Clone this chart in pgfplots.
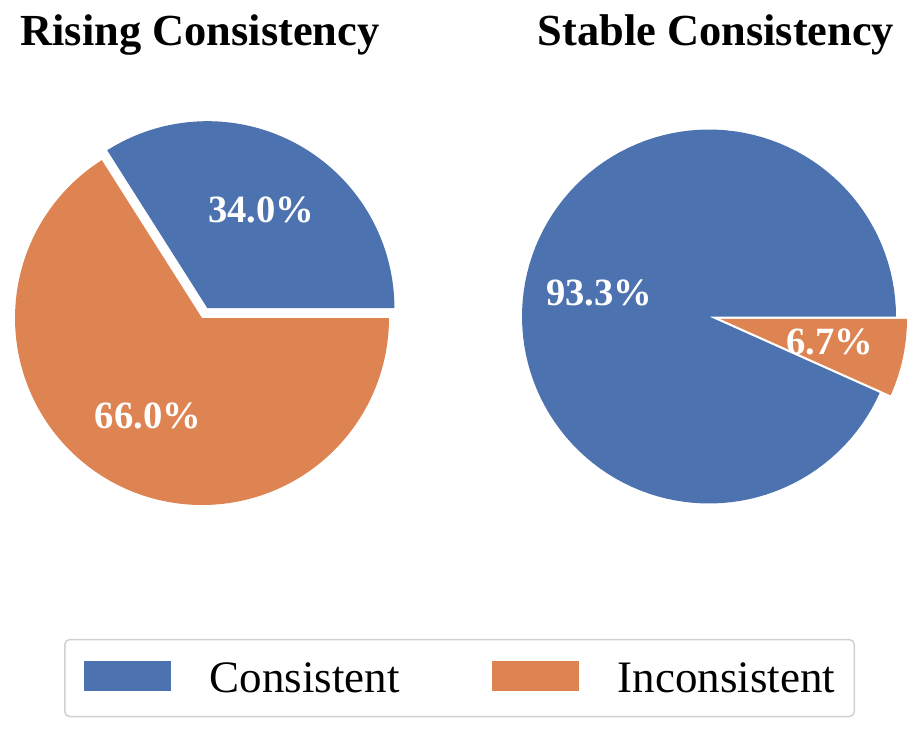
\documentclass[border=0pt]{standalone}
\usepackage{pgfplots}
\pgfplotsset{compat=1.18}
\usepackage{fontspec}
\setmainfont{Liberation Serif}

\definecolor{cblue}{HTML}{4C72B0}
\definecolor{corange}{HTML}{DD8452}

% shares in percent
\def\riseCons{34.0}
\def\riseIncons{66.0}
\def\stabCons{93.3}
\def\stabIncons{6.7}
% offset of a pulled-out slice and radius of the percentage labels
\def\explode{0.06}
\def\pctd{0.6}

% Rising: consistent slice pulled out
\pgfmathsetmacro{\rEnd}{3.6*\riseCons}
\pgfmathsetmacro{\rMidA}{\rEnd/2}
\pgfmathsetmacro{\rMidB}{(\rEnd+360)/2}
\pgfmathsetmacro{\rDx}{\explode*cos(\rMidA)}
\pgfmathsetmacro{\rDy}{\explode*sin(\rMidA)}
\pgfmathsetmacro{\rLAx}{\rDx+\pctd*cos(\rMidA)}
\pgfmathsetmacro{\rLAy}{\rDy+\pctd*sin(\rMidA)}
\pgfmathsetmacro{\rLBx}{\pctd*cos(\rMidB)}
\pgfmathsetmacro{\rLBy}{\pctd*sin(\rMidB)}
% Stable: inconsistent slice pulled out
\pgfmathsetmacro{\sEnd}{3.6*\stabCons}
\pgfmathsetmacro{\sMidA}{\sEnd/2}
\pgfmathsetmacro{\sMidB}{(\sEnd+360)/2}
\pgfmathsetmacro{\sDx}{\explode*cos(\sMidB)}
\pgfmathsetmacro{\sDy}{\explode*sin(\sMidB)}
\pgfmathsetmacro{\sLAx}{\pctd*cos(\sMidA)}
\pgfmathsetmacro{\sLAy}{\pctd*sin(\sMidA)}
\pgfmathsetmacro{\sLBx}{\sDx+\pctd*cos(\sMidB)}
\pgfmathsetmacro{\sLBy}{\sDy+\pctd*sin(\sMidB)}

\newcommand{\titlefont}{\fontsize{22.2}{26}\selectfont\bfseries}
\newcommand{\pctfont}{\fontsize{19.3}{22}\selectfont\bfseries}
\newcommand{\legfont}{\fontsize{22.5}{26}\selectfont}
\newcommand{\pct}[1]{\pgfmathprintnumber[fixed,fixed zerofill,precision=1,assume math mode=true]{#1}\%}

\tikzset{lbl/.style={font=\pctfont, text=white, anchor=center, inner sep=0pt}}
\pgfplotsset{
  pie/.style={
    hide axis, scale only axis, width=187pt, height=187pt,
    xmin=-1, xmax=1, ymin=-1, ymax=1, clip=false,
    title style={font=\titlefont, at={(0.5,1)}, anchor=base},
  },
  slice/.style={draw=none, samples=120},
}

\begin{document}
\begin{tikzpicture}
\begin{axis}[pie, at={(7.5pt,-252.5pt)}, anchor=south west,
  title={Rising Consistency}, title style={yshift=37pt, xshift=-1pt},
  legend columns=2,
  legend style={at={(1.1885,-0.4626)}, anchor=center,
    draw=black!18, line width=0.75pt, rounded corners=2.5pt,
    inner xsep=9.5pt, inner ysep=10.5pt, font=\legfont,
    nodes={inner sep=0pt, anchor=base west},
    column sep=19.5pt,
    /tikz/every even column/.append style={column sep=46pt}},
  legend image code/.code={\fill[#1, sharp corners] (0pt,1pt) rectangle (43.5pt,16pt);},
]
\addplot[slice, fill=cblue, domain=0:\rEnd]
  ({\rDx+cos(x)}, {\rDy+sin(x)}) -- (axis cs:\rDx,\rDy) -- cycle;
\addlegendentry{Consistent}
\addplot[slice, fill=corange, domain=\rEnd:360]
  ({cos(x)}, {sin(x)}) -- (axis cs:0,0) -- cycle;
\addlegendentry{Inconsistent}
\node[lbl] at (axis cs:\rLAx,\rLAy) {\pct{\riseCons}};
\node[lbl] at (axis cs:\rLBx,\rLBy) {\pct{\riseIncons}};
\end{axis}

\begin{axis}[pie, at={(261pt,-251.75pt)}, anchor=south west,
  title={Stable Consistency}, title style={yshift=36.25pt, xshift=3.5pt}]
\addplot[slice, fill=cblue, domain=0:\sEnd]
  ({cos(x)}, {sin(x)}) -- (axis cs:0,0) -- cycle;
\addplot[slice, fill=corange, domain=\sEnd:360]
  ({\sDx+cos(x)}, {\sDy+sin(x)}) -- (axis cs:\sDx,\sDy) -- cycle;
\node[lbl] at (axis cs:\sLAx,\sLAy) {\pct{\stabCons}};
\node[lbl] at (axis cs:\sLBx,\sLBy) {\pct{\stabIncons}};
\end{axis}

\pgfresetboundingbox
\path[use as bounding box] (0pt,0pt) rectangle (459.5pt,-367.5pt);
\end{tikzpicture}
\end{document}
